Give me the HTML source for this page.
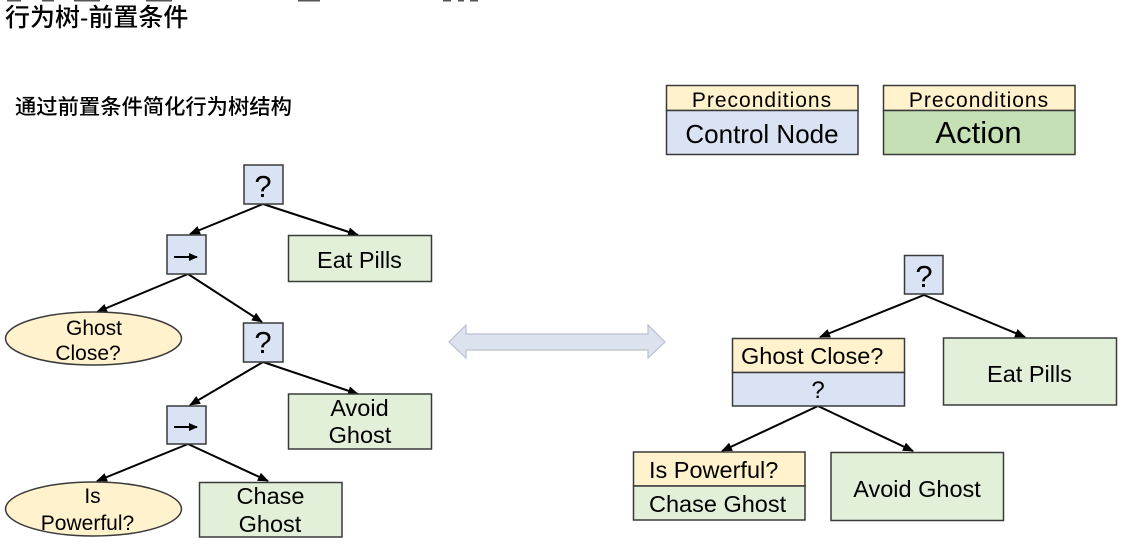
<!DOCTYPE html>
<html>
<head>
<meta charset="utf-8">
<style>
  html, body { margin:0; padding:0; background:#fff; }
  body { width:1133px; height:559px; overflow:hidden; position:relative; }
  svg { position:absolute; left:0; top:0; }
  .t { font-family:"Liberation Sans", Arial, sans-serif; fill:#000; }
  .cjk { font-family:"Liberation Sans", "Noto Sans CJK SC", sans-serif; fill:#000; }
</style>
</head>
<body>
<svg width="1133" height="559" viewBox="0 0 1133 559" xmlns="http://www.w3.org/2000/svg">
  <defs>
    <marker id="ah" markerUnits="userSpaceOnUse" markerWidth="11" markerHeight="9" refX="10" refY="4.5" orient="auto">
      <path d="M0,0 L11,4.5 L0,9 z" fill="#000"/>
    </marker>
    <marker id="ahs" markerUnits="userSpaceOnUse" markerWidth="9" markerHeight="8" refX="8" refY="4" orient="auto">
      <path d="M0,0 L9,4 L0,8 z" fill="#000"/>
    </marker>
  </defs>

  <!-- top cut-off artifacts -->
  <g fill="#555">
    <rect x="7" y="0" width="14" height="1.5"/>
    <rect x="42" y="0" width="12" height="1.5"/>
    <rect x="74" y="0" width="26" height="1.5"/>
    <rect x="146" y="0" width="26" height="1.5"/>
    <rect x="298" y="0" width="22" height="1.5"/>
    <rect x="443" y="0" width="8" height="1.5"/>
    <rect x="458" y="0" width="6" height="1.5"/>
    <rect x="470" y="0" width="8" height="1.5"/>
  </g>

  <!-- titles -->
  <text class="cjk" x="5" y="26" font-size="25" font-weight="500">行为树-前置条件</text>
  <text class="cjk" x="15" y="114" font-size="21.3" font-weight="500">通过前置条件简化行为树结构</text>

  <!-- ===== Left tree edges ===== -->
  <g stroke="#000" stroke-width="2" fill="none">
    <line x1="263" y1="204" x2="190" y2="234" marker-end="url(#ah)"/>
    <line x1="263" y1="204" x2="358" y2="235" marker-end="url(#ah)"/>
    <line x1="188" y1="274" x2="97" y2="312" marker-end="url(#ah)"/>
    <line x1="188" y1="274" x2="262" y2="322" marker-end="url(#ah)"/>
    <line x1="263" y1="362" x2="190" y2="405" marker-end="url(#ah)"/>
    <line x1="263" y1="362" x2="358" y2="394" marker-end="url(#ah)"/>
    <line x1="188" y1="444" x2="97" y2="481" marker-end="url(#ah)"/>
    <line x1="188" y1="444" x2="268" y2="481" marker-end="url(#ah)"/>
  </g>

  <!-- Left tree nodes -->
  <g stroke="#3a3a3a" stroke-width="1.5">
    <rect x="244" y="165" width="39" height="39" fill="#dae3f3"/>
    <rect x="167" y="235" width="39" height="39" fill="#dae3f3"/>
    <rect x="288.5" y="235.5" width="143" height="46" fill="#e2f0d9"/>
    <ellipse cx="93.5" cy="338.5" rx="88" ry="26.5" fill="#fff2cc"/>
    <rect x="243.5" y="323" width="39.5" height="39" fill="#dae3f3"/>
    <rect x="288.5" y="394" width="143" height="55" fill="#e2f0d9"/>
    <rect x="167" y="406" width="39" height="38" fill="#dae3f3"/>
    <ellipse cx="93.5" cy="509" rx="88" ry="27" fill="#fff2cc"/>
    <rect x="199.5" y="482.5" width="142.5" height="54.5" fill="#e2f0d9"/>
  </g>

  <!-- sequence arrows -->
  <g stroke="#000" stroke-width="2">
    <line x1="174" y1="257" x2="197" y2="257" marker-end="url(#ahs)"/>
    <line x1="174" y1="427" x2="197" y2="427" marker-end="url(#ahs)"/>
  </g>

  <!-- Left tree text -->
  <text class="t" x="263" y="197" font-size="31" text-anchor="middle">?</text>
  <text class="t" x="359.5" y="268" font-size="23.5" text-anchor="middle">Eat Pills</text>
  <text class="t" x="94" y="335" font-size="21" text-anchor="middle">Ghost</text>
  <text class="t" x="88" y="360" font-size="21" text-anchor="middle">Close?</text>
  <text class="t" x="263" y="353" font-size="31" text-anchor="middle">?</text>
  <text class="t" x="359.5" y="416" font-size="23.5" text-anchor="middle">Avoid</text>
  <text class="t" x="360" y="443" font-size="23.5" text-anchor="middle">Ghost</text>
  <text class="t" x="92.5" y="503" font-size="21" text-anchor="middle">Is</text>
  <text class="t" x="87.5" y="530" font-size="21" text-anchor="middle">Powerful?</text>
  <text class="t" x="270.5" y="504" font-size="23.5" text-anchor="middle">Chase</text>
  <text class="t" x="270" y="532" font-size="23.5" text-anchor="middle">Ghost</text>

  <!-- ===== Double arrow ===== -->
  <path d="M449,342 L466,325 L466,334 L648,334 L648,325 L665,342 L648,358 L648,350 L466,350 L466,358 Z"
        fill="#dde3ee" stroke="#b9c1cf" stroke-width="1.2"/>

  <!-- ===== Legend ===== -->
  <g stroke="#3a3a3a" stroke-width="1.5">
    <rect x="666.5" y="85.5" width="191.5" height="25" fill="#fff2cc"/>
    <rect x="666.5" y="110.5" width="191.5" height="44" fill="#dae3f3"/>
    <rect x="883.5" y="85.5" width="191.5" height="25" fill="#fff2cc"/>
    <rect x="883.5" y="110.5" width="191.5" height="44" fill="#c5e0b4"/>
  </g>
  <text class="t" x="762" y="107" font-size="21" letter-spacing="1" text-anchor="middle">Preconditions</text>
  <text class="t" x="762" y="143" font-size="26" text-anchor="middle">Control Node</text>
  <text class="t" x="979" y="107" font-size="21" letter-spacing="1" text-anchor="middle">Preconditions</text>
  <text class="t" x="978.5" y="143" font-size="31" text-anchor="middle">Action</text>

  <!-- ===== Right tree edges ===== -->
  <g stroke="#000" stroke-width="2" fill="none">
    <line x1="924" y1="295" x2="820" y2="337" marker-end="url(#ah)"/>
    <line x1="924" y1="295" x2="1025" y2="337" marker-end="url(#ah)"/>
    <line x1="818" y1="406" x2="722" y2="451" marker-end="url(#ah)"/>
    <line x1="818" y1="406" x2="913" y2="451" marker-end="url(#ah)"/>
  </g>

  <!-- Right tree nodes -->
  <g stroke="#3a3a3a" stroke-width="1.5">
    <rect x="904.5" y="255.5" width="38.5" height="38.5" fill="#dae3f3"/>
    <rect x="732.5" y="338.5" width="172" height="34" fill="#fff2cc"/>
    <rect x="732.5" y="372.5" width="172" height="33.5" fill="#dae3f3"/>
    <rect x="943.5" y="338" width="173" height="67" fill="#e2f0d9"/>
    <rect x="633.5" y="452" width="171.5" height="34" fill="#fff2cc"/>
    <rect x="633.5" y="486" width="171.5" height="34" fill="#e2f0d9"/>
    <rect x="831" y="452.5" width="172.5" height="68" fill="#e2f0d9"/>
  </g>

  <!-- Right tree text -->
  <text class="t" x="924" y="287" font-size="31" text-anchor="middle">?</text>
  <text class="t" x="741" y="364" font-size="23.5">Ghost Close?</text>
  <text class="t" x="818" y="398" font-size="24" text-anchor="middle">?</text>
  <text class="t" x="1029.5" y="382" font-size="23.5" text-anchor="middle">Eat Pills</text>
  <text class="t" x="649" y="478" font-size="23.5">Is Powerful?</text>
  <text class="t" x="649" y="512" font-size="23.5">Chase Ghost</text>
  <text class="t" x="917" y="497" font-size="23.5" text-anchor="middle">Avoid Ghost</text>
</svg>
</body>
</html>
